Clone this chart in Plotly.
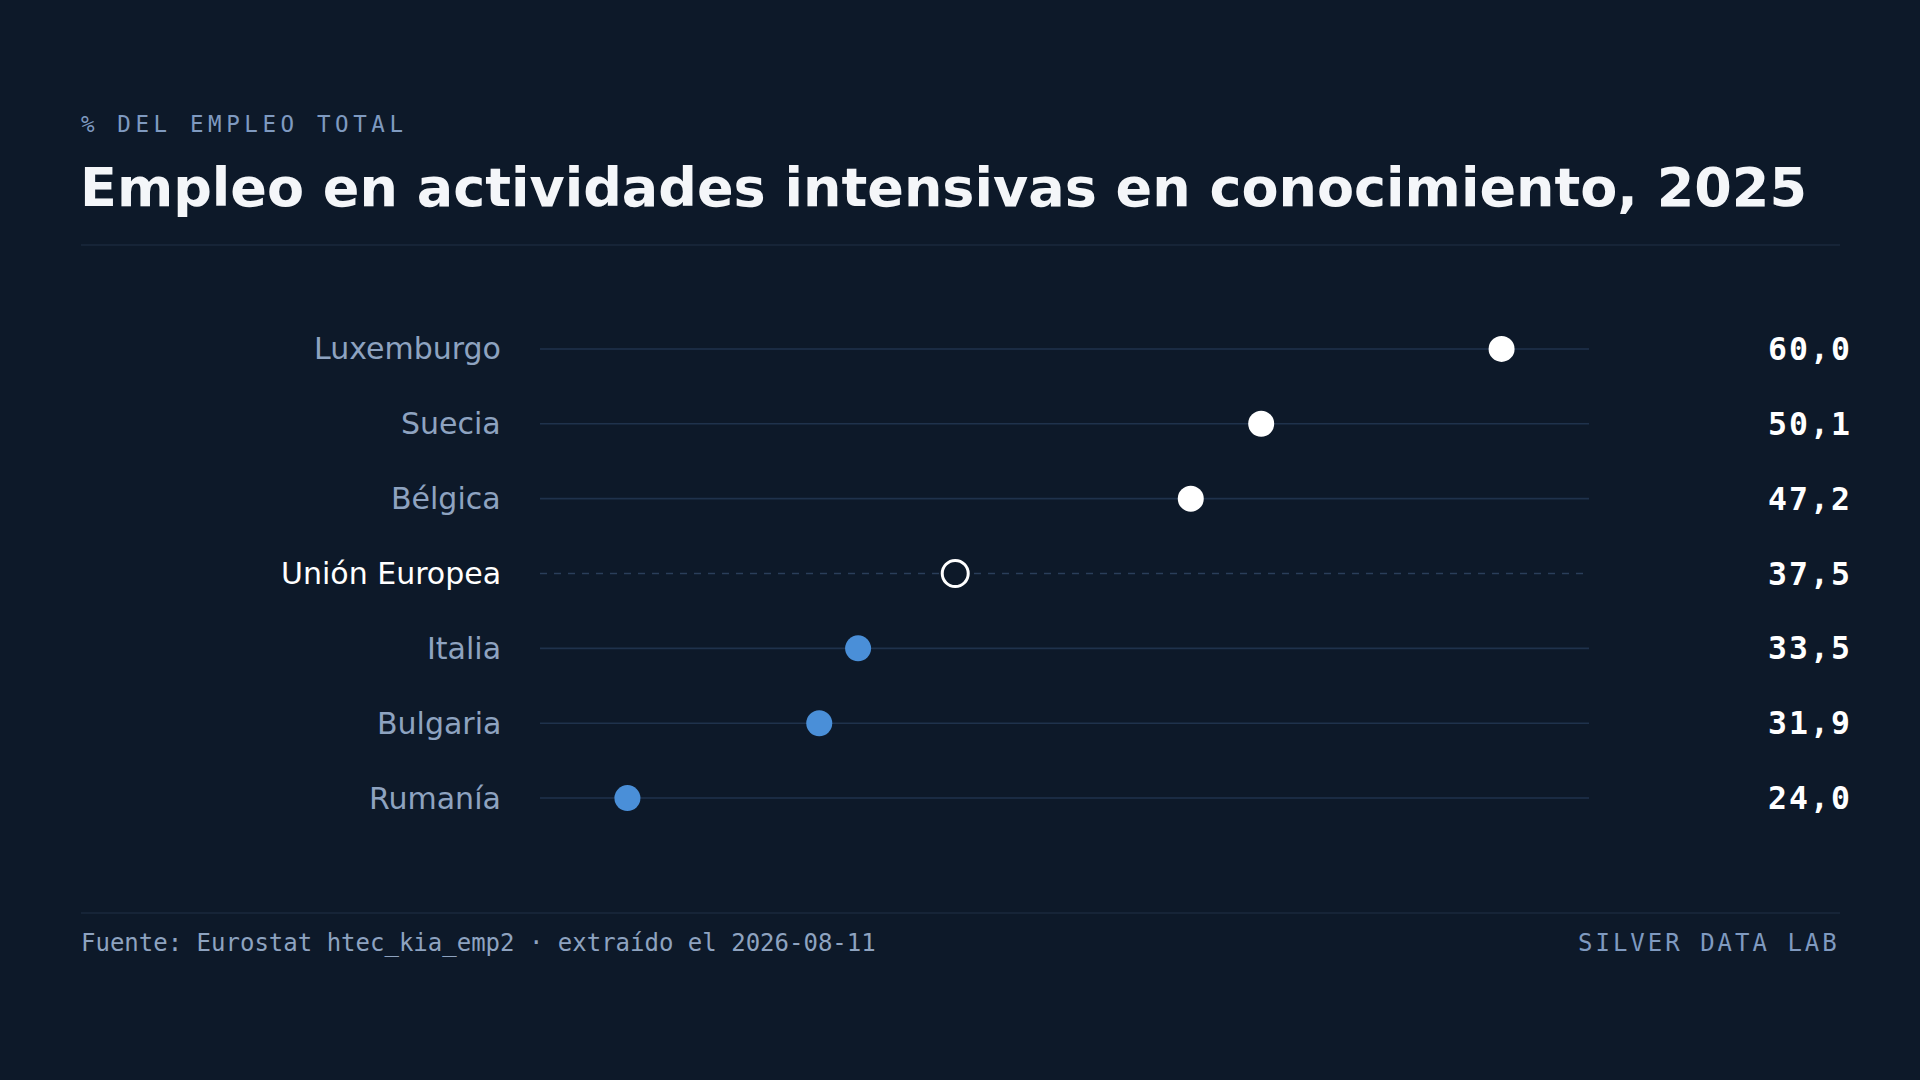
import plotly.graph_objects as go

# data
paises = ["Luxemburgo", "Suecia", "Bélgica", "Unión Europea", "Italia", "Bulgaria", "Rumanía"]
valores = [60.0, 50.1, 47.2, 37.5, 33.5, 31.9, 24.0]
etiquetas_valor = ["60,0", "50,1", "47,2", "37,5", "33,5", "31,9", "24,0"]
referencia = "Unión Europea"

BG = "#0d1929"
GRID = "#1f324c"
LABEL = "#8ea3c0"
BLUE = "#4a8fd8"
W, H = 1920, 1080

# axis range: 10% padding around the data span
span = max(valores) - min(valores)
xmin, xmax = min(valores) - 0.1 * span, max(valores) + 0.1 * span

ref_val = valores[paises.index(referencia)]
colores, bordes, anchos = [], [], []
for p, v in zip(paises, valores):
    if p == referencia:
        colores.append(BG)
        bordes.append("#ffffff")
        anchos.append(3)
    elif v > ref_val:
        colores.append("#ffffff")
        bordes.append("#ffffff")
        anchos.append(0)
    else:
        colores.append(BLUE)
        bordes.append(BLUE)
        anchos.append(0)


def px(x):
    return x / W


def py(y):
    return 1 - y / H


fig = go.Figure()

# row guide lines
for p in paises:
    fig.add_shape(type="line", xref="x domain", yref="y", x0=0, x1=1, y0=p, y1=p,
                  line=dict(color="#2a3e5a" if p == referencia else GRID, width=1.6,
                            dash="7px,7px" if p == referencia else "solid"),
                  layer="below")

fig.add_trace(go.Scatter(
    x=valores, y=paises, mode="markers",
    marker=dict(size=26, color=colores, line=dict(color=bordes, width=anchos)),
    hoverinfo="skip", showlegend=False,
))

annotations = []
for p, t in zip(paises, etiquetas_valor):
    annotations.append(dict(
        x=px(502.5), xref="paper", y=p, yref="y", xanchor="right", yanchor="middle",
        text=p, showarrow=False,
        font=dict(family="DejaVu Sans", size=30, color="#ffffff" if p == referencia else LABEL),
    ))
    annotations.append(dict(
        x=px(1853.5), xref="paper", y=p, yref="y", xanchor="right", yanchor="middle",
        text="<span style='letter-spacing:2px'>" + t + "</span>", showarrow=False,
        font=dict(family="DejaVu Sans Mono", size=31.5, color="#ffffff", weight="bold"),
    ))

annotations += [
    dict(x=px(79), y=py(124), xref="paper", yref="paper", xanchor="left", yanchor="middle",
         text="<span style='letter-spacing:4.6px'>% DEL EMPLEO TOTAL</span>", showarrow=False,
         font=dict(family="DejaVu Sans Mono", size=22.5, color="#7f9ac0")),
    dict(x=px(78), y=py(188), xref="paper", yref="paper", xanchor="left", yanchor="middle",
         text="Empleo en actividades intensivas en conocimiento, 2025", showarrow=False,
         font=dict(family="DejaVu Sans", size=54, color="#f4f6f9", weight="bold")),
    dict(x=px(79), y=py(943), xref="paper", yref="paper", xanchor="left", yanchor="middle",
         text="Fuente: Eurostat htec_kia_emp2 · extraído el 2026-08-11", showarrow=False,
         font=dict(family="DejaVu Sans Mono", size=24, color=LABEL)),
    dict(x=px(1842), y=py(943), xref="paper", yref="paper", xanchor="right", yanchor="middle",
         text="<span style='letter-spacing:3px'>SILVER DATA LAB</span>", showarrow=False,
         font=dict(family="DejaVu Sans Mono", size=24, color="#7f9ac0")),
]

# separators
for yy in (245, 913):
    fig.add_shape(type="line", xref="paper", yref="paper", x0=px(81), x1=px(1840),
                  y0=py(yy), y1=py(yy), line=dict(color="#1a293d", width=1.5))

fig.update_layout(
    width=W, height=H,
    margin=dict(l=0, r=0, t=0, b=0),
    paper_bgcolor=BG, plot_bgcolor=BG,
    xaxis=dict(domain=[px(540), px(1589)], range=[xmin, xmax], visible=False),
    yaxis=dict(domain=[py(835.5), py(311.5)], type="category", categoryorder="array",
               categoryarray=paises, range=[6.5, -0.5], visible=False),
    annotations=annotations,
)

fig.write_html("out.html", config={"displayModeBar": False},
               post_script="document.body.style.margin='0';document.body.style.overflow='hidden';")
